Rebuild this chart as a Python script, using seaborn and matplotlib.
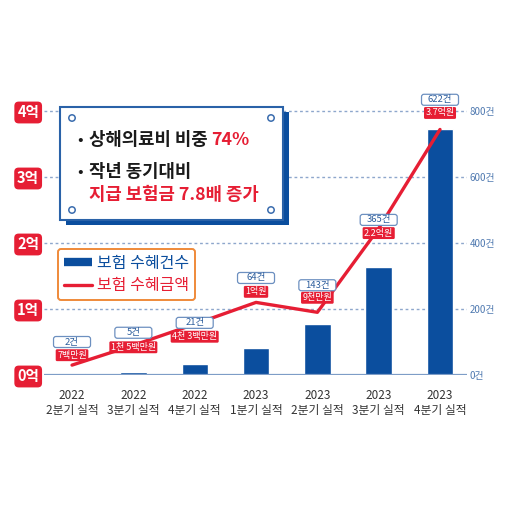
import numpy as np
import pandas as pd
import matplotlib
matplotlib.use('Agg')
import matplotlib.pyplot as plt
import matplotlib.transforms as mtransforms
import seaborn as sns
from matplotlib.patches import FancyBboxPatch, Circle
from matplotlib.lines import Line2D

# ---------------- data ----------------
years = ['2022', '2022', '2022', '2023', '2023', '2023', '2023']
quarters = ['2분기 실적', '3분기 실적', '4분기 실적', '1분기 실적', '2분기 실적', '3분기 실적', '4분기 실적']
count_labels = ['2건', '5건', '21건', '64건', '143건', '365건', '622건']
amount_labels = ['7백만원', '1천 5백만원', '4천 3백만원', '1억원', '9천만원', '2.2억원', '3.7억원']
bar_counts = [5, 9, 33, 82, 155, 328, 745]          # bar heights as drawn (건)
line_amounts = [0.15, 0.45, 0.77, 1.10, 0.95, 2.22, 3.72]  # line heights as drawn (억)
left_ticks = [0, 1, 2, 3, 4]
left_tick_labels = ['0억', '1억', '2억', '3억', '4억']
right_ticks = [0, 200, 400, 600, 800]
right_tick_labels = ['0건', '200건', '400건', '600건', '800건']
legend_labels = ['보험 수혜건수', '보험 수혜금액']
box_line1 = '상해의료비 비중 '
box_line1_hi = '74%'
box_line2 = '작년 동기대비'
box_line3 = '지급 보험금 7.8배 증가'

# ---------------- layout (label positions in 억 units) ----------------
amount_label_y = [0.30, 0.42, 0.58, 1.26, 1.17, 2.15, 3.97]
count_label_y = [0.50, 0.64, 0.79, 1.47, 1.36, 2.35, 4.17]

BLUE = '#0b4e9e'
RED = '#e61e34'
GRID = '#8ea7cc'
LBLUE = '#4f79b0'
ORANGE = '#ef8a3a'

sns.set_theme(style='white')
plt.rcParams['font.family'] = ['Noto Sans CJK KR', 'DejaVu Sans']

W, H = 512, 509
fig = plt.figure(figsize=(W / 100, H / 100), dpi=100)
fig.patch.set_facecolor('white')


def fx(x):
    return x / W


def fy(y):
    return 1 - y / H


ax = fig.add_axes([fx(44), fy(375), (467 - 44) / W, (375 - 78) / H])
ax2 = ax.twinx()

df = pd.DataFrame({
    'period': [f'{y}\n{q}' for y, q in zip(years, quarters)],
    'count': bar_counts,
    'amount': line_amounts,
    'pos': np.arange(len(years)),
})

# bars on the count axis (drawn underneath)
sns.barplot(data=df, x='period', y='count', ax=ax2, color=BLUE, saturation=1,
            width=0.43, zorder=2)
for v in right_ticks[1:]:
    ax2.axhline(v, color=GRID, lw=1, ls=(0, (2, 2)), zorder=1)
ax2.axhline(0, color='#7e9dc7', lw=1.6, zorder=3)
ax2.set_ylim(0, 900)
ax2.set_yticks(right_ticks)
ax2.set_yticklabels(right_tick_labels)
ax2.tick_params(axis='y', length=0, pad=2, labelsize=7, labelcolor=LBLUE)
ax2.set_xlabel('')
ax2.set_ylabel('')

# line on the amount axis (drawn on top)
ax.set_zorder(ax2.get_zorder() + 1)
ax.patch.set_visible(False)
sns.lineplot(data=df, x='pos', y='amount', ax=ax, color=RED, lw=2.4, zorder=4)
ax.set_ylim(0, 4.5)
ax.set_xlim(-0.457, 6.44)
ax.set_xlabel('')
ax.set_ylabel('')
ax.set_yticks(left_ticks)
ax.set_yticklabels(left_tick_labels)
ax.tick_params(axis='y', length=0, pad=3.5, labelsize=10.5, labelcolor='white')
for lbl in ax.get_yticklabels():
    lbl.set_fontweight('bold')
    lbl.set_bbox(dict(boxstyle='round,pad=0.2,rounding_size=0.3', fc=RED, ec='none'))
ax.set_xticks(df['pos'])
ax.set_xticklabels(df['period'], fontsize=8.5, color='#333333', linespacing=1.2)
ax.tick_params(axis='x', length=0, pad=10)
for a in (ax, ax2):
    for s in a.spines.values():
        s.set_visible(False)
    a.grid(False)

# value labels
for i in range(len(years)):
    ax.text(i, amount_label_y[i], amount_labels[i], ha='center', va='center',
            fontsize=6.5, color='white', zorder=6,
            bbox=dict(boxstyle='round,pad=0.16,rounding_size=0.15', fc=RED, ec='none'))
    anchor = mtransforms.ScaledTranslation(i, count_label_y[i], ax.transData)
    ax.add_patch(FancyBboxPatch((-18.5, -5.5), 37, 11,
                                boxstyle='round,pad=0,rounding_size=2.5',
                                fc='white', ec='#6d90c0', lw=0.9,
                                transform=anchor, zorder=5, clip_on=False))
    ax.text(i, count_label_y[i], count_labels[i], ha='center', va='center',
            fontsize=6.8, color='#2c5d9c', zorder=6)

# text box with shadow
fig.patches.append(FancyBboxPatch((fx(66), fy(225)), (289 - 66) / W, (225 - 112) / H,
                                  boxstyle='square,pad=0', fc=BLUE, ec='none',
                                  transform=fig.transFigure, zorder=5))
fig.patches.append(FancyBboxPatch((fx(60), fy(220)), (283 - 60) / W, (220 - 107) / H,
                                  boxstyle='square,pad=0', fc='white', ec='#2a62a8', lw=1.5,
                                  transform=fig.transFigure, zorder=5.1))
for (cx, cy) in [(72, 118), (72, 210), (271, 118), (271, 210)]:
    fig.patches.append(Circle((fx(cx), fy(cy)), 3.2 / W, fc='white', ec='#3a6cae', lw=1.1,
                              transform=fig.transFigure, zorder=5.2))

fs_box = 12.8
fig.text(fx(77), fy(140), '•', fontsize=12, color='#1a1a1a', ha='left', va='center', zorder=6)
t1 = fig.text(fx(89), fy(140), box_line1, fontsize=fs_box, fontweight='bold', color='#1a1a1a',
              ha='left', va='center', zorder=6)
fig.canvas.draw()
bb = t1.get_window_extent(renderer=fig.canvas.get_renderer())
fig.text(bb.x1 / W, fy(140), box_line1_hi, fontsize=fs_box, fontweight='bold', color=RED,
         ha='left', va='center', zorder=6)
fig.text(fx(77), fy(172), '•', fontsize=12, color='#1a1a1a', ha='left', va='center', zorder=6)
fig.text(fx(89), fy(172), box_line2, fontsize=fs_box, fontweight='bold', color='#1a1a1a',
         ha='left', va='center', zorder=6)
fig.text(fx(89), fy(195), box_line3, fontsize=fs_box, fontweight='bold', color=RED,
         ha='left', va='center', zorder=6)

# legend
handles = [Line2D([], [], color=BLUE, lw=6, solid_capstyle='butt'),
           Line2D([], [], color=RED, lw=2.4)]
leg = ax.legend(handles, legend_labels, loc='upper left',
                bbox_to_anchor=(fx(58), fy(249)), bbox_transform=fig.transFigure,
                borderaxespad=0, fontsize=11.5, labelcolor=[BLUE, RED],
                handlelength=1.75, handletextpad=0.35, labelspacing=0.35,
                borderpad=0.35, frameon=True, fancybox=True, framealpha=1)
leg.get_frame().set_edgecolor(ORANGE)
leg.get_frame().set_linewidth(1.4)
for txt in leg.get_texts():
    txt.set_fontweight('medium')

fig.savefig('out.png', dpi=100)
